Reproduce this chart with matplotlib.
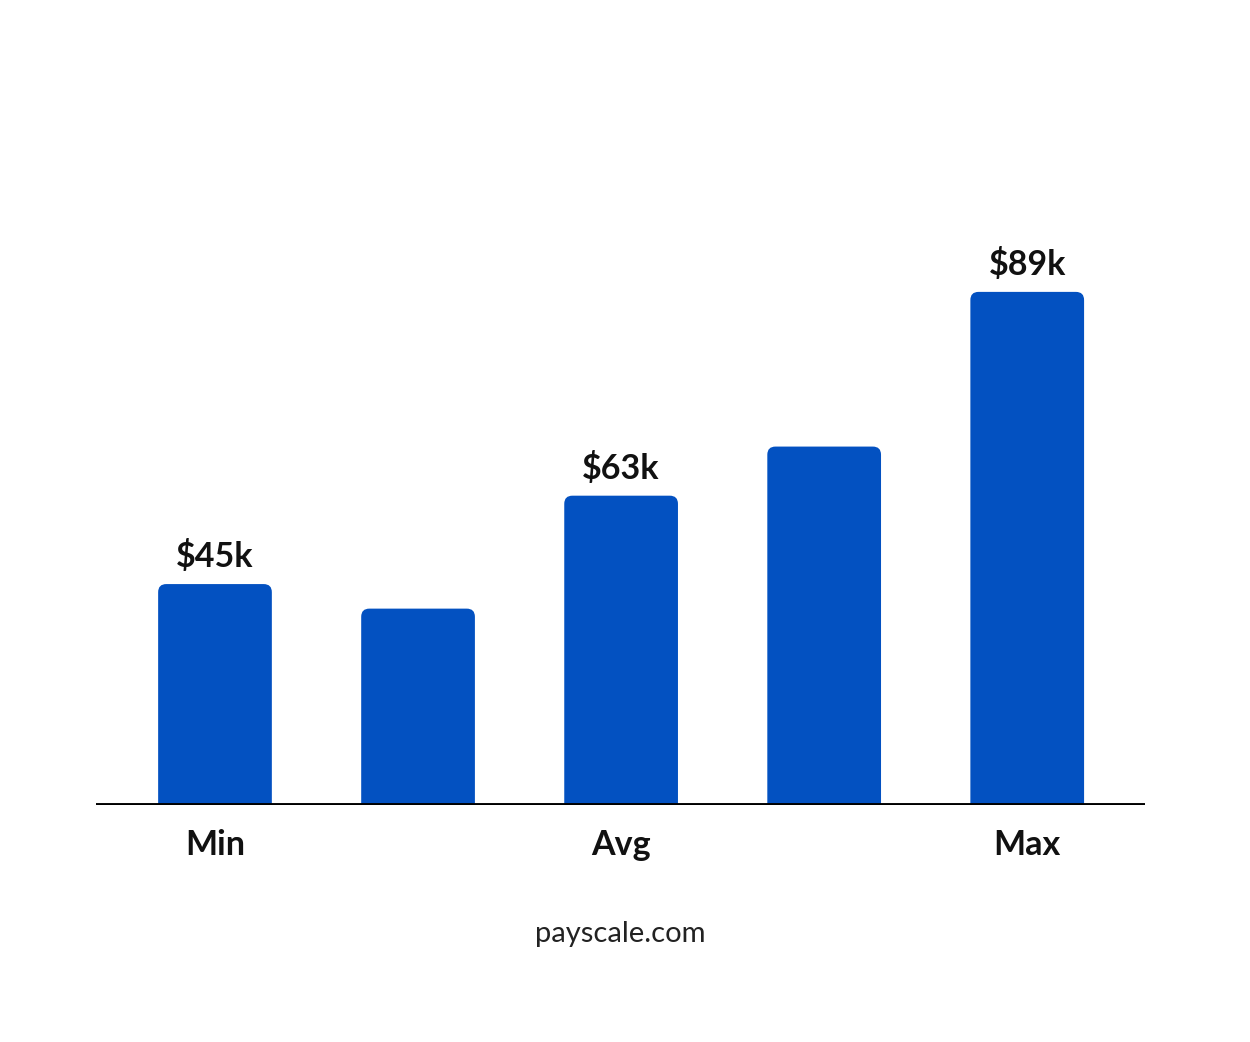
import matplotlib.pyplot as plt
from matplotlib.patches import FancyBboxPatch

# data
categories = ['Min', '', 'Avg', '', 'Max']
bar_heights = [45, 40, 63, 73, 104.5]   # drawn heights (chart is not to scale)
value_labels = ['$45k', '', '$63k', '', '$89k']

plt.rcParams['font.family'] = ['Lato', 'DejaVu Sans']

fig = plt.figure(figsize=(12.5, 10.42), dpi=100)
ax = fig.add_axes([0.0768, 0.2274, 0.8392, 0.5806])

x = list(range(len(categories)))
ax.set_xlim(-0.586, 4.58)
ax.set_ylim(0, 123.2)

blue = '#0351C1'
width = 0.56
r = 0.04
# px per data unit: x 203, y 4.91
aspect = 203 / 4.91
for xi, h, lab in zip(x, bar_heights, value_labels):
    p = FancyBboxPatch((xi - width / 2, -10), width, h + 10,
                       boxstyle=f'round,pad=0,rounding_size={r}',
                       mutation_aspect=aspect, fc=blue, ec='none', zorder=2)
    ax.add_patch(p)
    if lab:
        ax.text(xi, h + 2.2, lab, ha='center', va='bottom', fontsize=24.5,
                fontweight='bold', color='#111111')

ax.axhline(0, color='black', lw=2.8, zorder=3)

ax.set_xticks(x)
ax.set_xticklabels(categories, fontsize=24.5, fontweight='bold', color='#111111')
ax.tick_params(axis='x', length=0, pad=17)
ax.set_yticks([])
for s in ax.spines.values():
    s.set_visible(False)

fig.text(0.496, 1 - 934 / 1042, 'payscale.com', ha='center', va='center',
         fontsize=21, color='#222222')

fig.savefig('out.png', dpi=100, facecolor='white')
